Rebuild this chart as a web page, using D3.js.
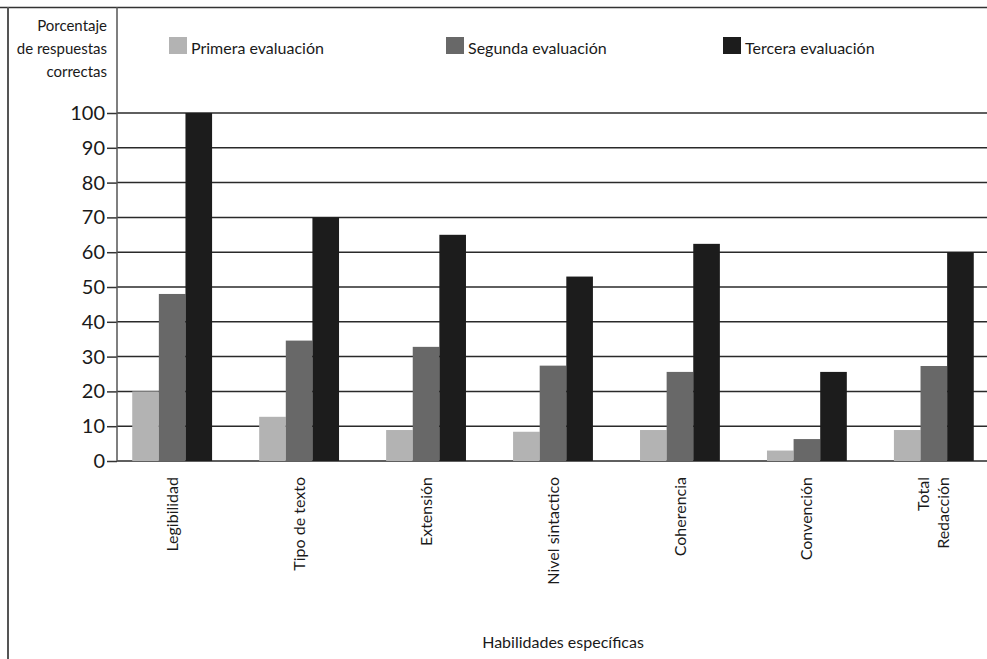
<!DOCTYPE html>
<html>
<head>
<meta charset="utf-8">
<script src="https://cdn.jsdelivr.net/npm/d3@7"></script>
<style>
    body { margin: 0; background: #fff; }
    text { font-family: Lato, "Noto Sans", sans-serif; fill: #1a1a1a; }
</style>
</head>
<body>
<div id="chart"></div>
<script>
// categories (x axis) and label lines
let categories = ["Legibilidad", "Tipo de texto", "Extensión", "Nivel sintactico", "Coherencia", "Convención", "Total Redacción"];
let categoryLines = [["Legibilidad"], ["Tipo de texto"], ["Extensión"], ["Nivel sintactico"], ["Coherencia"], ["Convención"], ["Total", "Redacción"]];

// series
let seriesNames = ["Primera evaluación", "Segunda evaluación", "Tercera evaluación"];
let primera = [20, 12.7, 8.9, 8.4, 8.9, 3, 8.9];
let segunda = [48, 34.6, 32.8, 27.4, 25.6, 6.3, 27.3];
let tercera = [100, 70, 65, 53, 62.4, 25.6, 60];
let seriesColors = ["#b3b3b3", "#686868", "#1c1c1c"];

let yTicks = [0, 10, 20, 30, 40, 50, 60, 70, 80, 90, 100];
let yTitle = ["Porcentaje", "de respuestas", "correctas"];
let xTitle = "Habilidades específicas";

function showChart() {
    let W = 987, H = 659;
    let left = 117, right = 989, top = 113, bottom = 461;

    let svg = d3.select("#chart").append("svg")
        .attr("width", W)
        .attr("height", H);

    let allSeries = [primera, segunda, tercera];

    let x0 = d3.scaleBand()
        .domain(categories)
        .range([left, right])
        .paddingInner(0.371)
        .paddingOuter(0.12);

    let x1 = d3.scaleBand()
        .domain(seriesNames)
        .range([0, x0.bandwidth()]);

    let y = d3.scaleLinear()
        .domain([0, 100])
        .range([bottom, top]);

    // frame lines
    svg.append("line")
        .attr("x1", 0).attr("x2", W)
        .attr("y1", 7.5).attr("y2", 7.5)
        .attr("stroke", "#333").attr("stroke-width", 1.5);
    svg.append("line")
        .attr("x1", 8).attr("x2", 8)
        .attr("y1", 7).attr("y2", H)
        .attr("stroke", "#555").attr("stroke-width", 2);

    // gridlines + y axis
    let yAxis = svg.append("g")
        .attr("transform", "translate(" + left + ",0)")
        .call(d3.axisLeft(y).tickValues(yTicks).tickSize(10).tickSizeOuter(0).tickPadding(2));
    yAxis.select(".domain").remove();
    yAxis.selectAll(".tick line").attr("stroke", "#333").attr("stroke-width", 1.5);
    yAxis.selectAll(".tick text")
        .attr("font-size", 20)
        .attr("fill", "#1a1a1a");

    svg.append("g")
        .selectAll("line")
        .data(yTicks)
        .enter()
        .append("line")
        .attr("x1", left).attr("x2", W)
        .attr("y1", d => y(d)).attr("y2", d => y(d))
        .attr("stroke", "#2a2a2a")
        .attr("stroke-width", 1.5);

    // bars
    let groups = svg.append("g")
        .selectAll("g")
        .data(categories)
        .enter()
        .append("g")
        .attr("transform", d => "translate(" + x0(d) + ",0)");

    groups.selectAll("rect")
        .data((d, i) => seriesNames.map((s, j) => ({ s: s, v: allSeries[j][i], c: seriesColors[j] })))
        .enter()
        .append("rect")
        .attr("x", d => x1(d.s))
        .attr("y", d => y(d.v))
        .attr("width", x1.bandwidth())
        .attr("height", d => bottom - y(d.v))
        .attr("fill", d => d.c);

    // vertical axis line
    svg.append("line")
        .attr("x1", left).attr("x2", left)
        .attr("y1", 7).attr("y2", bottom)
        .attr("stroke", "#555").attr("stroke-width", 1.5);

    // x labels (rotated)
    categoryLines.forEach(function(lines, i) {
        let cx = x0(categories[i]) + x0.bandwidth() / 2;
        lines.forEach(function(line, k) {
            let lx = cx + (k - (lines.length - 1) / 2) * 20;
            svg.append("text")
                .attr("x", lx)
                .attr("y", 477)
                .attr("dy", "0.35em")
                .attr("transform", "rotate(-90," + lx + ",477)")
                .attr("text-anchor", "end")
                .attr("font-size", 16)
                .text(line);
        });
    });

    // y title
    svg.append("g")
        .selectAll("text")
        .data(yTitle)
        .enter()
        .append("text")
        .attr("x", 107)
        .attr("y", (d, i) => 31 + i * 23)
        .attr("text-anchor", "end")
        .attr("font-size", 15)
        .text(d => d);

    // x title
    svg.append("text")
        .attr("x", 563)
        .attr("y", 648)
        .attr("text-anchor", "middle")
        .attr("font-size", 16)
        .text(xTitle);

    // legend
    let legendX = [169, 446, 723];
    let legend = svg.append("g")
        .selectAll("g")
        .data(seriesNames)
        .enter()
        .append("g")
        .attr("transform", (d, i) => "translate(" + legendX[i] + ",37)");
    legend.append("rect")
        .attr("width", 18).attr("height", 17)
        .attr("fill", (d, i) => seriesColors[i]);
    legend.append("text")
        .attr("x", 22)
        .attr("y", 17)
        .attr("font-size", 16)
        .text(d => d);
}

showChart();
</script>
</body>
</html>
